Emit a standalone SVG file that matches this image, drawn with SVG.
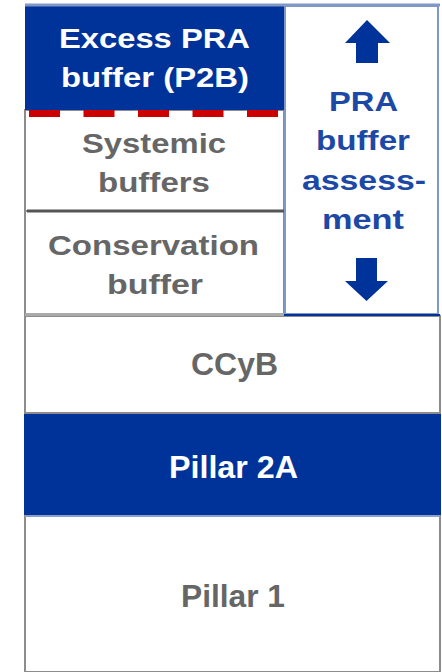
<svg xmlns="http://www.w3.org/2000/svg" width="442" height="672" viewBox="0 0 442 672">
<style>
text{font-family:"Liberation Sans",Arial,sans-serif;font-weight:bold;text-anchor:middle}
.w{fill:#ffffff;font-size:28px}
.g{fill:#666666;font-size:28px}
.gl{fill:#666666;font-size:31px}
.b{fill:#1c48a6;font-size:28px}
.wl{fill:#ffffff;font-size:31px}
.arrow{fill:#003399}
</style>
<rect x="0" y="0" width="442" height="672" fill="#ffffff"/>
<g id="pillar1">
<rect x="25" y="515" width="415" height="157" fill="#ffffff" stroke="#8c8c8c" stroke-width="2"/>
<line x1="25" y1="516" x2="440" y2="516" stroke="#8aa0cc" stroke-width="2"/>
<text class="gl" x="233" y="607" textLength="104" lengthAdjust="spacingAndGlyphs">Pillar 1</text>
</g>
<g id="pillar2a">
<rect x="24" y="413" width="417" height="102" fill="#003399"/>
<text class="wl" x="233.5" y="478" textLength="129" lengthAdjust="spacingAndGlyphs">Pillar 2A</text>
</g>
<g id="ccyb">
<rect x="25" y="316" width="415" height="97" fill="#ffffff" stroke="#8c8c8c" stroke-width="2"/>
<text class="gl" x="234.5" y="375" textLength="87" lengthAdjust="spacingAndGlyphs">CCyB</text>
</g>
<g id="conservation">
<rect x="25" y="211" width="259" height="103" fill="#ffffff" stroke="#8c8c8c" stroke-width="2"/>
<line x1="25" y1="314.5" x2="284" y2="314.5" stroke="#aaaaaa" stroke-width="3"/>
<text class="g" x="153.5" y="255" textLength="211" lengthAdjust="spacingAndGlyphs">Conservation</text>
<text class="g" x="155" y="294" textLength="96" lengthAdjust="spacingAndGlyphs">buffer</text>
</g>
<g id="systemic">
<rect x="25" y="110" width="259" height="101" fill="#ffffff" stroke="#8c8c8c" stroke-width="2"/>
<line x1="27" y1="211" x2="284" y2="211" stroke="#555555" stroke-width="3"/>
<text class="g" x="154" y="153" textLength="144" lengthAdjust="spacingAndGlyphs">Systemic</text>
<text class="g" x="154" y="192" textLength="112" lengthAdjust="spacingAndGlyphs">buffers</text>
</g>
<g id="excess">
<rect x="25" y="5" width="259" height="105" fill="#003399"/>
<line x1="25" y1="5" x2="440" y2="5" stroke="#7f98c8" stroke-width="3"/>
<line x1="29" y1="113.5" x2="284" y2="113.5" stroke="#cc0000" stroke-width="7" stroke-dasharray="31 23.5"/>
<text class="w" x="154.5" y="48" textLength="191" lengthAdjust="spacingAndGlyphs">Excess PRA</text>
<text class="w" x="155" y="87" textLength="188" lengthAdjust="spacingAndGlyphs">buffer (P2B)</text>
</g>
<g id="assessment">
<rect x="285" y="6" width="153" height="308" fill="#ffffff" stroke="#7f98c8" stroke-width="2"/>
<line x1="284" y1="315" x2="440" y2="315" stroke="#003399" stroke-width="2"/>
<polygon class="arrow" points="367,20 390,43 378,43 378,63 356,63 356,43 345,43"/>
<text class="b" x="363.5" y="111" textLength="69" lengthAdjust="spacingAndGlyphs">PRA</text>
<text class="b" x="363" y="150" textLength="94" lengthAdjust="spacingAndGlyphs">buffer</text>
<text class="b" x="364" y="190" textLength="124" lengthAdjust="spacingAndGlyphs">assess-</text>
<text class="b" x="363" y="229" textLength="82" lengthAdjust="spacingAndGlyphs">ment</text>
<polygon class="arrow" points="356,258 377,258 377,281 388,281 366.5,301 345,281 356,281"/>
</g>
<g id="connectors"></g>
</svg>
